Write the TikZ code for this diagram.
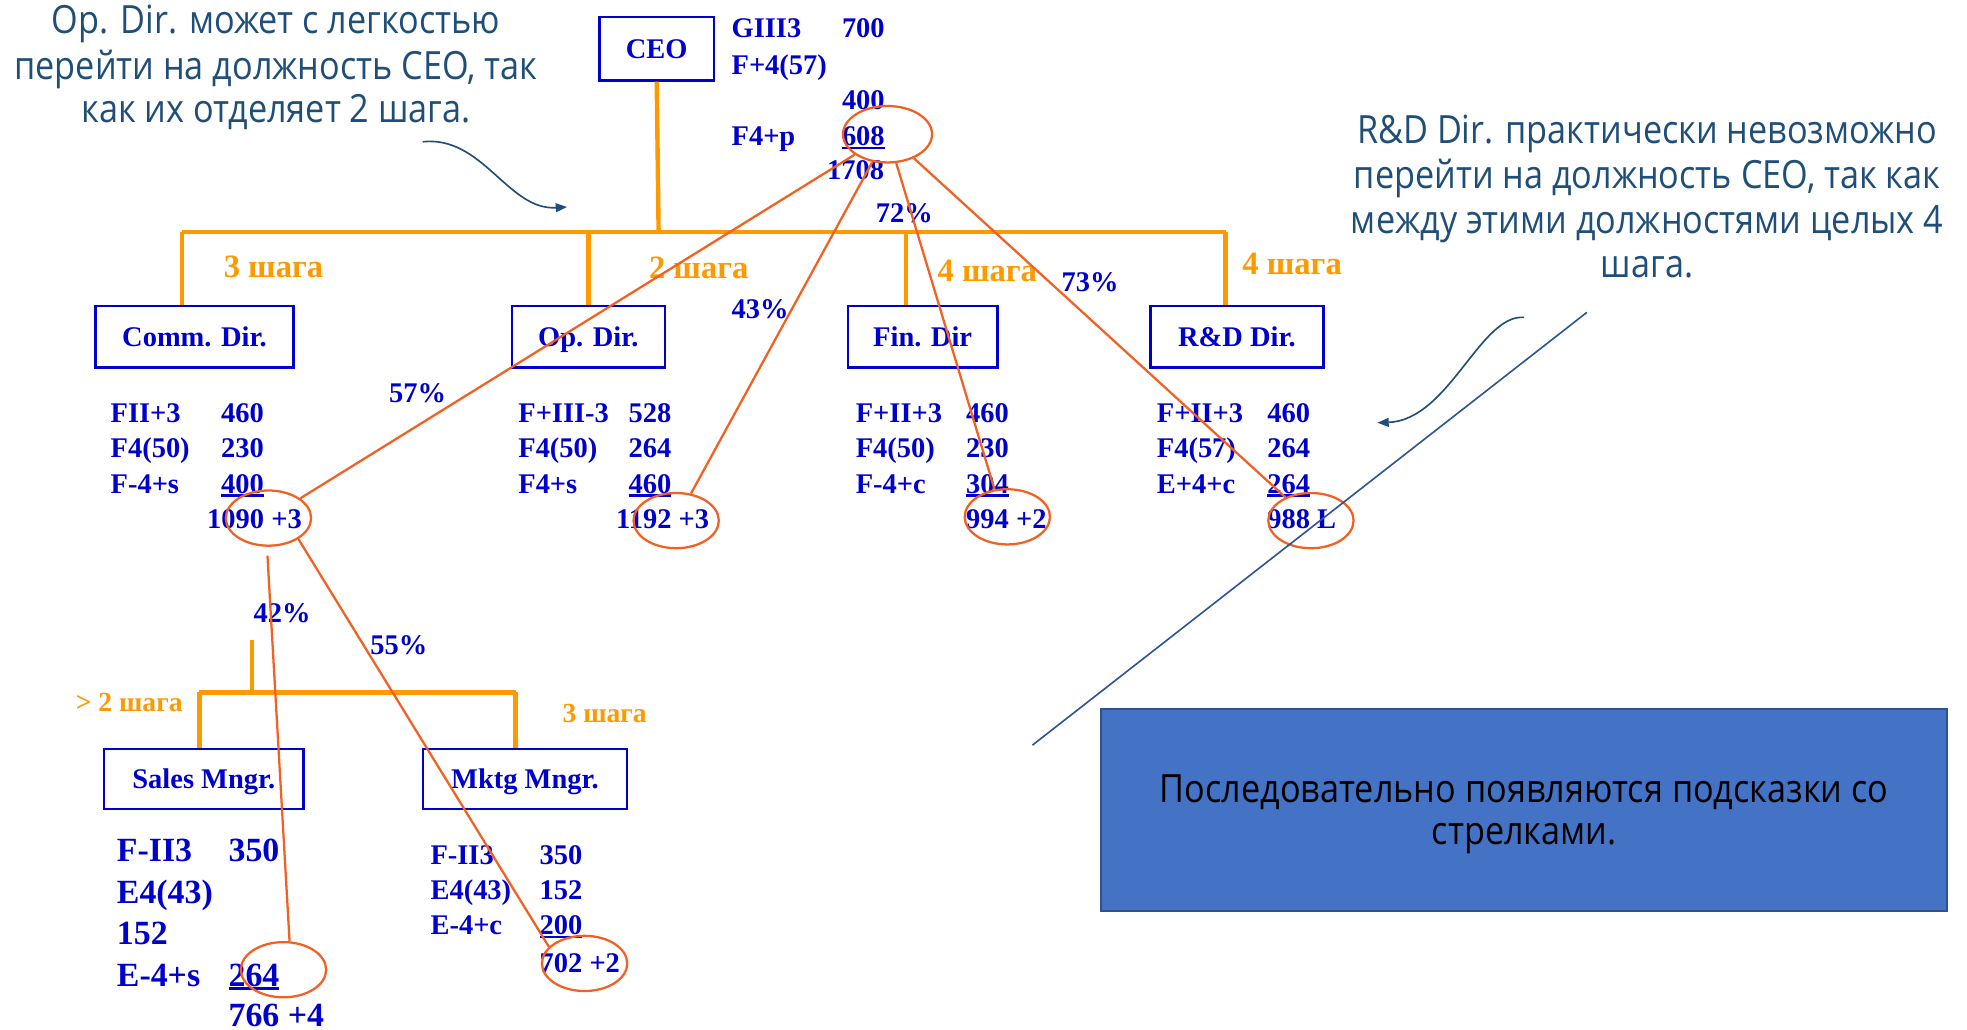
\documentclass[tikz,border=0pt]{standalone}
\usepackage{fontspec}
\setmainfont{Liberation Serif}
\newfontfamily\callfont[FakeStretch=0.88]{Open Sans}
\usetikzlibrary{arrows.meta,shapes.geometric}
\definecolor{dblue}{RGB}{0,0,204}
\definecolor{orng}{RGB}{255,153,0}
\definecolor{redo}{RGB}{242,96,34}
\definecolor{callc}{RGB}{31,78,121}
\definecolor{rectfill}{RGB}{68,114,196}
\definecolor{rectdraw}{RGB}{47,82,143}
\definecolor{diagc}{RGB}{47,85,151}
\newcommand\ul[1]{\setbox0\hbox{#1}\rlap{\rule[-3pt]{\wd0}{2pt}}\box0}
\begin{document}
\begin{tikzpicture}[x=1pt,y=-1pt,
  orgbox/.style={draw=dblue, line width=2pt, text=dblue, font=\bfseries\fontsize{22.7}{27}\selectfont, inner sep=0pt, text height=15.5pt, text depth=0pt},
  dtxt/.style={text=dblue, font=\bfseries\fontsize{22.7}{28}\selectfont, anchor=base west, inner sep=0pt},
  bigtxt/.style={text=dblue, font=\bfseries\fontsize{27}{33}\selectfont, anchor=base west, inner sep=0pt},
  steplbl/.style={text=orng, font=\bfseries\fontsize{26}{30}\selectfont, anchor=base, inner sep=0pt},
  steplbls/.style={text=orng, font=\bfseries\fontsize{22}{26}\selectfont, anchor=base, inner sep=0pt},
  orl/.style={draw=orng, line width=3.5pt},
  redl/.style={draw=redo, line width=1.8pt},
  ell/.style={draw=redo, line width=1.8pt, ellipse, inner sep=0pt, minimum width=68pt, minimum height=44pt},
  calltxt/.style={text=callc, font=\callfont\fontsize{31}{35}\selectfont, anchor=base, inner sep=0pt},
  notetxt/.style={text=black, font=\callfont\fontsize{31}{33}\selectfont, anchor=base, inner sep=0pt},
  arr/.style={draw=callc, line width=1.3pt, -{Triangle[length=9pt,width=7pt]}}
]
\useasboundingbox (0,0) rectangle (1568,821);
\fill[white] (0,0) rectangle (1568,821);

% callouts
\node[calltxt] (cl1) at (220,27) {Op. Dir. может с легкостью};
\node[calltxt] (cl2) at (220,63) {перейти на должность CEO, так};
\node[calltxt] (cl3) at (220,98) {как их отделяет 2 шага.};
\node[calltxt] (cr1) at (1313,114) {R\&D Dir. практически невозможно};
\node[calltxt] (cr2) at (1313,150) {перейти на должность CEO, так как};
\node[calltxt] (cr3) at (1313,186) {между этими должностями целых 4};
\node[calltxt] (cr4) at (1313,221) {шага.};

% boxes
\node[orgbox, minimum width=91pt, minimum height=50.5pt] (ceo) at (523.5,38.75) {CEO};
\node[orgbox, minimum width=158pt, minimum height=49pt] (comm) at (155,268.5) {Comm. Dir.};
\node[orgbox, minimum width=122pt, minimum height=49pt] (op) at (469,268.5) {Op. Dir.};
\node[orgbox, minimum width=119pt, minimum height=49pt] (fin) at (735.5,268.5) {Fin. Dir};
\node[orgbox, minimum width=138pt, minimum height=49pt] (rd) at (986,268.5) {R\&D Dir.};
\node[orgbox, minimum width=159pt, minimum height=48pt] (sales) at (162.5,621) {Sales Mngr.};
\node[orgbox, minimum width=163pt, minimum height=48pt] (mktg) at (418.5,621) {Mktg Mngr.};

% CEO data
\node[dtxt] (c1) at (583,30) {GIII3};
\node[dtxt] (c2) at (671,30) {700};
\node[dtxt] (c3) at (583,59) {F+4(57)};
\node[dtxt] (c4) at (671,87) {400};
\node[dtxt] (c5) at (583,116) {F4+p};
\node[dtxt] (c6) at (671,116) {\ul{608}};
\node[dtxt, anchor=base east] (c7) at (705,143) {1708};

% Comm data
\node[dtxt] (m1) at (88,337) {FII+3};
\node[dtxt] (m2) at (176,337) {460};
\node[dtxt] (m3) at (88,365) {F4(50)};
\node[dtxt] (m4) at (176,365) {230};
\node[dtxt] (m5) at (88,393) {F-4+s};
\node[dtxt] (m6) at (176,393) {\ul{400}};
\node[dtxt] (m7) at (165,421) {1090 +3};

% Op data
\node[dtxt] (o1) at (413,337) {F+III-3};
\node[dtxt] (o2) at (501,337) {528};
\node[dtxt] (o3) at (413,365) {F4(50)};
\node[dtxt] (o4) at (501,365) {264};
\node[dtxt] (o5) at (413,393) {F4+s};
\node[dtxt] (o6) at (501,393) {\ul{460}};
\node[dtxt] (o7) at (491,421) {1192 +3};

% Fin data
\node[dtxt] (f1) at (682,337) {F+II+3};
\node[dtxt] (f2) at (770,337) {460};
\node[dtxt] (f3) at (682,365) {F4(50)};
\node[dtxt] (f4) at (770,365) {230};
\node[dtxt] (f5) at (682,393) {F-4+c};
\node[dtxt] (f6) at (770,393) {\ul{304}};
\node[dtxt] (f7) at (770,421) {994 +2};

% R&D data
\node[dtxt] (r1) at (922,337) {F+II+3};
\node[dtxt] (r2) at (1010,337) {460};
\node[dtxt] (r3) at (922,365) {F4(57)};
\node[dtxt] (r4) at (1010,365) {264};
\node[dtxt] (r5) at (922,393) {E+4+c};
\node[dtxt] (r6) at (1010,393) {\ul{264}};
\node[dtxt] (r7) at (1010,421) {988 L};

% Sales data
\node[bigtxt] (s1) at (93,687) {F-II3};
\node[bigtxt] (s2) at (182,687) {350};
\node[bigtxt] (s3) at (93,720) {E4(43)};
\node[bigtxt] (s4) at (93,753) {152};
\node[bigtxt] (s5) at (93,786) {E-4+s};
\node[bigtxt] (s6) at (182,786) {\ul{264}};
\node[bigtxt] (s7) at (182,818) {766 +4};

% Mktg data
\node[dtxt] (k1) at (343,689) {F-II3};
\node[dtxt] (k2) at (430,689) {350};
\node[dtxt] (k3) at (343,717) {E4(43)};
\node[dtxt] (k4) at (430,717) {152};
\node[dtxt] (k5) at (343,745) {E-4+c};
\node[dtxt] (k6) at (430,745) {\ul{200}};
\node[dtxt] (k7) at (430,775) {702 +2};

% percentages
\node[dtxt] (p72) at (698,177) {72\%};
\node[dtxt] (p43) at (583,254) {43\%};
\node[dtxt] (p57) at (310,321) {57\%};
\node[dtxt] (p73) at (846,232) {73\%};
\node[dtxt] (p42) at (202,496) {42\%};
\node[dtxt] (p55) at (295,522) {55\%};

% step labels
\node[steplbl] (st1) at (218,221) {3 шага};
\node[steplbl] (st2) at (557,222) {2 шага};
\node[steplbl] (st3) at (787,224) {4 шага};
\node[steplbl] (st4) at (1030,219) {4 шага};
\node[steplbls] (st5) at (103,567) {> 2 шага};
\node[steplbls] (st6) at (482,576) {3 шага};

% orange tree lines
\coordinate (hl) at (145,185);
\coordinate (hc) at (525,185);
\coordinate (hf) at (722,185);
\coordinate (hr) at (977,185);
\draw[orl] (ceo.south) -- (hc);
\draw[orl] (hl) -- (hr);
\draw[orl] (hl) -- (hl |- comm.north);
\draw[orl] (op.north |- hl) -- (op.north);
\draw[orl] (hf) -- (hf |- fin.north);
\draw[orl] (hr) -- (hr |- rd.north);
\coordinate (lt) at (201,510);
\coordinate (lj) at (201,552);
\coordinate (ll) at (159,552);
\coordinate (lr) at (411,552);
\draw[orl] (lt) -- (lj);
\draw[orl] (ll) -- (lr);
\draw[orl] (ll) -- (ll |- sales.north);
\draw[orl] (lr) -- (lr |- mktg.north);

% ellipses
\node[ell, minimum width=71pt, minimum height=45pt] (ceoE) at (707.5,107) {};
\node[ell] (commE) at (214,413) {};
\node[ell] (opE) at (539,415) {};
\node[ell] (finE) at (803,412) {};
\node[ell] (rdE) at (1045,415) {};
\node[ell] (salesE) at (226,773) {};
\node[ell] (mktgE) at (466,768) {};

% red lines
\draw[redl] (ceoE) -- (commE);
\draw[redl] (ceoE) -- (opE);
\draw[redl] (ceoE) -- (finE.115);
\draw[redl] (ceoE) -- (rdE);
\draw[redl, shorten <=7pt] (commE.-93) -- (salesE.78);
\draw[redl] (commE.-35) -- (mktgE.155);

% diagonal line and arrows
\coordinate (d1) at (823,594);
\coordinate (d2) at (1265,249);
\draw[diagc, line width=1.3pt] (d1) -- (d2);
\coordinate (a1s) at (337,113);
\coordinate (a1e) at (452,165);
\draw[arr] (a1s) .. controls (385,108) and (405,168) .. (a1e);
\coordinate (a2s) at (1215,253);
\coordinate (a2e) at (1098,337);
\draw[arr] (a2s) .. controls (1180,250) and (1155,335) .. (a2e);

% note rectangle
\node[draw=rectdraw, fill=rectfill, line width=1.5pt, minimum width=674pt, minimum height=161pt, inner sep=0pt] (note) at (1215,645.5) {};
\node[notetxt] (n1) at (1215,640) {Последовательно появляются подсказки со};
\node[notetxt] (n2) at (1215,673) {стрелками.};
\end{tikzpicture}
\end{document}
